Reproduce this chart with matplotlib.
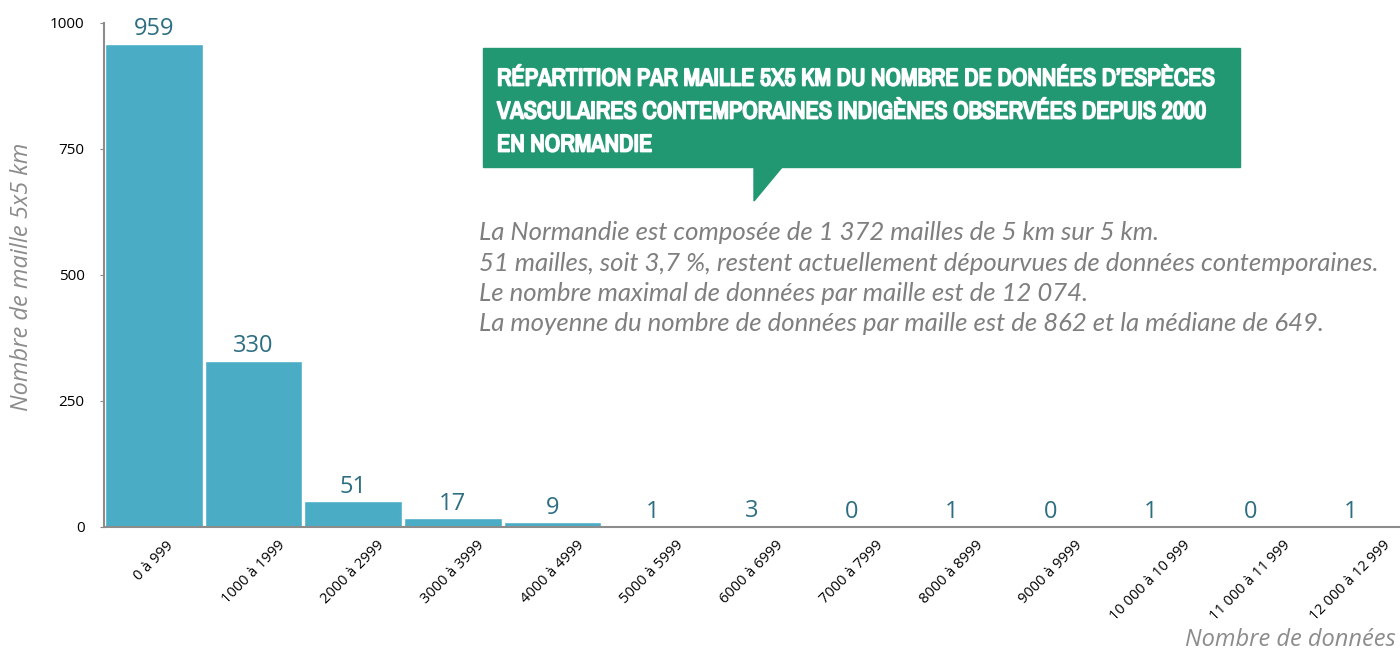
import matplotlib
matplotlib.use('Agg')
import matplotlib.pyplot as plt
import matplotlib.patheffects as pe
from matplotlib import font_manager
from matplotlib.patches import Polygon, Rectangle

#%% data
categories = ['0 à 999', '1000 à 1999', '2000 à 2999', '3000 à 3999', '4000 à 4999',
              '5000 à 5999', '6000 à 6999', '7000 à 7999', '8000 à 8999', '9000 à 9999',
              '10 000 à 10 999', '11 000 à 11 999', '12 000 à 12 999']
counts = [959, 330, 51, 17, 9, 1, 3, 0, 1, 0, 1, 0, 1]
yticks = [0, 250, 500, 750, 1000]

title_lines = ["RÉPARTITION PAR MAILLE 5X5 KM DU NOMBRE DE DONNÉES D’ESPÈCES",
               "VASCULAIRES CONTEMPORAINES INDIGÈNES OBSERVÉES DEPUIS 2000",
               "EN NORMANDIE"]
notes = ["La Normandie est composée de 1 372 mailles de 5 km sur 5 km.",
         "51 mailles, soit 3,7 %, restent actuellement dépourvues de données contemporaines.",
         "Le nombre maximal de données par maille est de 12 074.",
         "La moyenne du nombre de données par maille est de 862 et la médiane de 649."]

#%% narrow-ish font for the title
title_font = 'Roboto'
for f in font_manager.fontManager.ttflist:
    n = f.name.lower()
    if 'condensed' in n or 'narrow' in n:
        title_font = f.name
        break

#%% plot
W, H = 1400, 653
fig = plt.figure(figsize=(W/100, H/100), dpi=100)
ax = fig.add_axes([104/W, 1-527/H, 1-104/W, (527-23)/H])

x = range(len(categories))
ax.bar(x, counts, width=0.98, color='#4bacc6', edgecolor='white', linewidth=1)
for i, v in zip(x, counts):
    ax.annotate(str(v), (i, v), xytext=(0, 2), textcoords='offset points',
                ha='center', va='bottom', fontsize=17, color='#2d6e82', family='Open Sans')

ax.set_xlim(-0.5, len(categories)-0.5)
ax.set_ylim(0, 1000)
ax.set_yticks(yticks)
ax.set_yticklabels([str(t) for t in yticks], fontsize=11, family='Open Sans')
ax.set_xticks(list(x))
ax.set_xticklabels(categories, rotation=45, ha='center', va='top',
                   fontsize=10.5, family='Open Sans')
ax.tick_params(axis='x', length=0, pad=8)
ax.tick_params(axis='y', length=3, color='#888888', pad=11)
for s in ['top', 'right']:
    ax.spines[s].set_visible(False)
for s in ['left', 'bottom']:
    ax.spines[s].set_color('#8c8c8c')
    ax.spines[s].set_linewidth(1.5)

fig.text(22/W, 1-277/H, 'Nombre de maille 5x5 km', rotation=90, ha='center', va='center',
         fontsize=17, style='italic', color='#8c8c8c', family='Open Sans')
fig.text(1396/W, 1-640/H, 'Nombre de données', ha='right', va='center',
         fontsize=17, style='italic', color='#8c8c8c', family='Open Sans')

# title box with pointer
green = '#219871'
fig.patches.append(Rectangle((483/W, 1-167/H), (1240-483)/W, (167-48)/H,
                             transform=fig.transFigure, color=green, zorder=3))
fig.patches.append(Polygon([(754/W, 1-166/H), (783/W, 1-166/H), (754/W, 1-201/H)],
                           closed=True, transform=fig.transFigure, color=green, zorder=3))
title_txt = []
for k, line in enumerate(title_lines):
    title_txt.append(fig.text(497/W, 1-(79+33*k)/H, line, ha='left', va='center',
                              fontsize=22, fontweight='bold', color='white',
                              family=title_font, zorder=4,
                              path_effects=[pe.withStroke(linewidth=1.3, foreground='white')]))
# shrink title so the longest line fits the box
renderer = fig.canvas.get_renderer()
wmax = max(t.get_window_extent(renderer).width for t in title_txt)
if wmax > 718:
    for t in title_txt:
        t.set_fontsize(22 * 718 / wmax)

for k, line in enumerate(notes):
    fig.text(479/W, 1-(233+30.3*k)/H, line, ha='left', va='center', fontsize=18.5,
             style='italic', color='#7f7f7f', family='Lato')

fig.savefig('out.png', dpi=100)
